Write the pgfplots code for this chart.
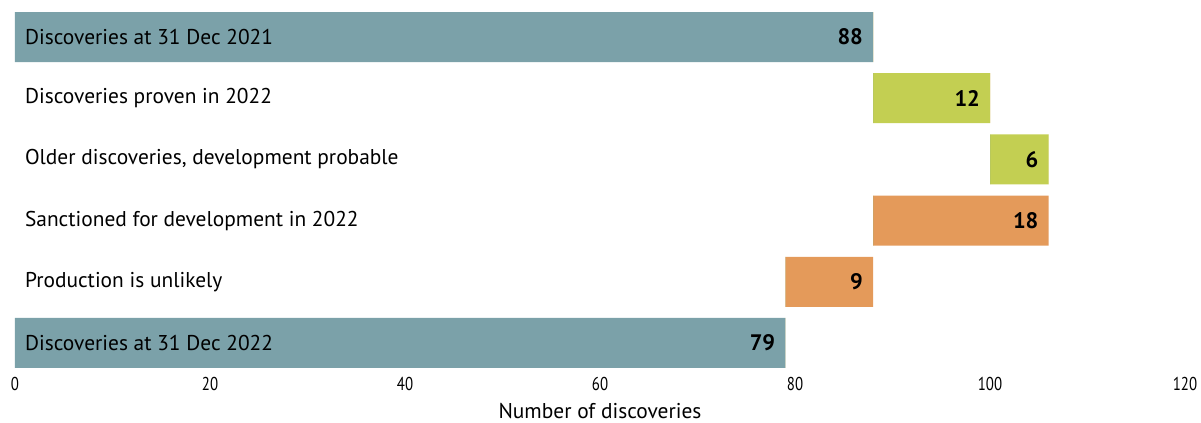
\documentclass[border=0pt]{standalone}
\usepackage{fontspec}
\setmainfont{PT Sans}
\newfontfamily\tickfont[FakeStretch=0.8]{PT Sans}
\usepackage{pgfplots}
\usepackage{pgfplotstable}
\pgfplotsset{compat=1.18}
\definecolor{cteal}{RGB}{123,161,169}
\definecolor{cgreen}{RGB}{195,207,82}
\definecolor{corange}{RGB}{228,154,90}
\pgfplotstableread{
row base teal green orange
0 0 88 0 0
1 88 0 12 0
2 100 0 6 0
3 88 0 0 18
4 79 0 0 9
5 0 79 0 0
}\data
\pgfplotstableread{
row end lab
0 88 88
1 100 12
2 106 6
3 106 18
4 88 9
5 79 79
}\labels
\begin{document}
\begin{tikzpicture}
\begin{axis}[
  name=ax,
  scale only axis,
  width=585pt, height=178pt,
  xbar, stack plots=x, bar shift=0pt, bar width=25pt,
  xmin=0, xmax=120,
  ymin=-0.41, ymax=5.41,
  y dir=reverse,
  axis line style={draw=none},
  major tick length=0pt,
  axis on top,
  xtick={0,20,...,120},
  ytick={0,1,2,3,4,5},
  yticklabels={Discoveries at 31 Dec 2021, Discoveries proven in 2022, {Older discoveries, development probable}, Sanctioned for development in 2022, Production is unlikely, Discoveries at 31 Dec 2022},
  yticklabel style={anchor=west, xshift=1.5pt, font=\fontsize{10.7}{12}\selectfont, text=black},
  xticklabel style={anchor=center, yshift=-8pt, font=\tickfont\fontsize{9.3}{10}\selectfont},
  /pgf/number format/assume math mode=true,
  xlabel={Number of discoveries},
  xlabel style={at={(axis description cs:0.5,0)}, anchor=center, yshift=-21.5pt, font=\fontsize{10.7}{12}\selectfont},
]
\addplot[draw=none, fill=none] table[x=base, y=row] {\data};
\addplot[draw=none, fill=cteal] table[x=teal, y=row] {\data};
\addplot[draw=none, fill=cgreen] table[x=green, y=row] {\data};
\addplot[draw=none, fill=corange] table[x=orange, y=row] {\data};
\addplot[stack plots=false, sharp plot, draw=none, mark=none,
  nodes near coords, point meta=explicit symbolic,
  every node near coord/.append style={anchor=east, xshift=-1.5pt, font=\fontsize{11.2}{13}\selectfont\bfseries, text=black}]
  table[x=end, y=row, meta=lab] {\labels};
\end{axis}
\pgfresetboundingbox
\path[use as bounding box] ([xshift=-7.5pt,yshift=-27.5pt]ax.south west) rectangle ([xshift=8pt,yshift=6pt]ax.north east);
\end{tikzpicture}
\end{document}
